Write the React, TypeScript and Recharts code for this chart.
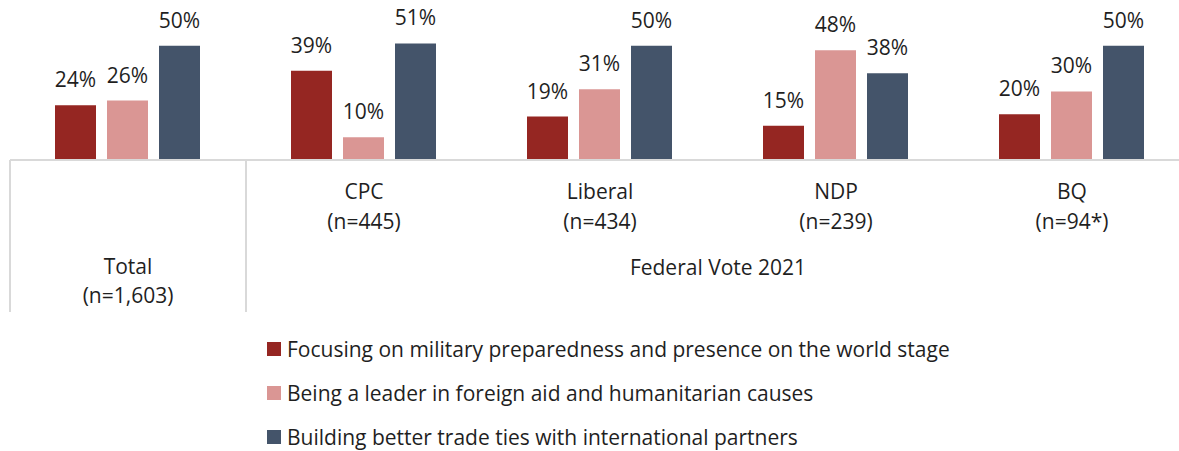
import React from "react";
import { Bar, BarChart, LabelList, XAxis, YAxis } from "recharts";

const groups = ["Total", "CPC", "Liberal", "NDP", "BQ"];
const sampleSizes = ["(n=1,603)", "(n=445)", "(n=434)", "(n=239)", "(n=94*)"];
const military = [24, 39, 19, 15, 20];
const foreignAid = [26, 10, 31, 48, 30];
const trade = [50, 51, 50, 38, 50];

const series = [
  { key: "military", name: "Focusing on military preparedness and presence on the world stage", color: "#952622" },
  { key: "aid", name: "Being a leader in foreign aid and humanitarian causes", color: "#DA9694" },
  { key: "trade", name: "Building better trade ties with international partners", color: "#44546A" },
];

const data = groups.map((g, i) => ({
  group: g,
  n: sampleSizes[i],
  military: military[i],
  aid: foreignAid[i],
  trade: trade[i],
}));

const FONT = "'Open Sans', Lato, sans-serif";
const TEXT = "#1f1f1f";
const SIZE = 21;

const GroupTick = (props: any) => {
  const { x, y, payload, index } = props;
  const half = payload?.offset ?? 118;
  const row = data[index];
  const style = { fontFamily: FONT, fontSize: SIZE, fill: TEXT };
  if (index === 0) {
    return (
      <g>
        <line x1={x - half} y1={y - 8} x2={x - half} y2={y + 144} stroke="#d9d9d9" strokeWidth={2} />
        <line x1={x + half} y1={y - 8} x2={x + half} y2={y + 144} stroke="#d9d9d9" strokeWidth={2} />
        <text x={x} y={y + 106} textAnchor="middle" {...style}>{row.group}</text>
        <text x={x} y={y + 135} textAnchor="middle" {...style}>{row.n}</text>
      </g>
    );
  }
  return (
    <g>
      <text x={x} y={y + 31} textAnchor="middle" {...style}>{row.group}</text>
      <text x={x} y={y + 61} textAnchor="middle" {...style}>{row.n}</text>
      {index === 2 && (
        <text x={x + half} y={y + 107} textAnchor="middle" {...style}>Federal Vote 2021</text>
      )}
    </g>
  );
};

export default function App() {
  return (
    <div style={{ position: "fixed", left: 0, top: 0, width: 1179, height: 451, overflow: "hidden", background: "#fff" }}>
      <BarChart
        width={1200}
        height={320}
        data={data}
        margin={{ top: 0, right: 10, left: 10, bottom: 0 }}
        barCategoryGap={45}
        barGap={11}
      >
        <XAxis
          dataKey="group"
          height={160}
          interval={0}
          axisLine={{ stroke: "#d9d9d9", strokeWidth: 2 }}
          tickLine={false}
          tick={<GroupTick />}
        />
        <YAxis hide domain={[0, 70]} />
        {series.map((s) => (
          <Bar key={s.key} dataKey={s.key} name={s.name} fill={s.color} isAnimationActive={false}>
            <LabelList
              dataKey={s.key}
              position="top"
              offset={18}
              formatter={(v: any) => `${v}%`}
              style={{ fontFamily: FONT, fontSize: SIZE, fill: TEXT }}
            />
          </Bar>
        ))}
      </BarChart>
      <div style={{ position: "absolute", left: 267, top: 327, fontFamily: FONT, fontSize: SIZE, color: TEXT }}>
        {series.map((s) => (
          <div key={s.key} style={{ display: "flex", alignItems: "center", height: 44 }}>
            <span style={{ width: 14, height: 14, background: s.color, marginRight: 6, display: "inline-block" }} />
            <span>{s.name}</span>
          </div>
        ))}
      </div>
    </div>
  );
}
